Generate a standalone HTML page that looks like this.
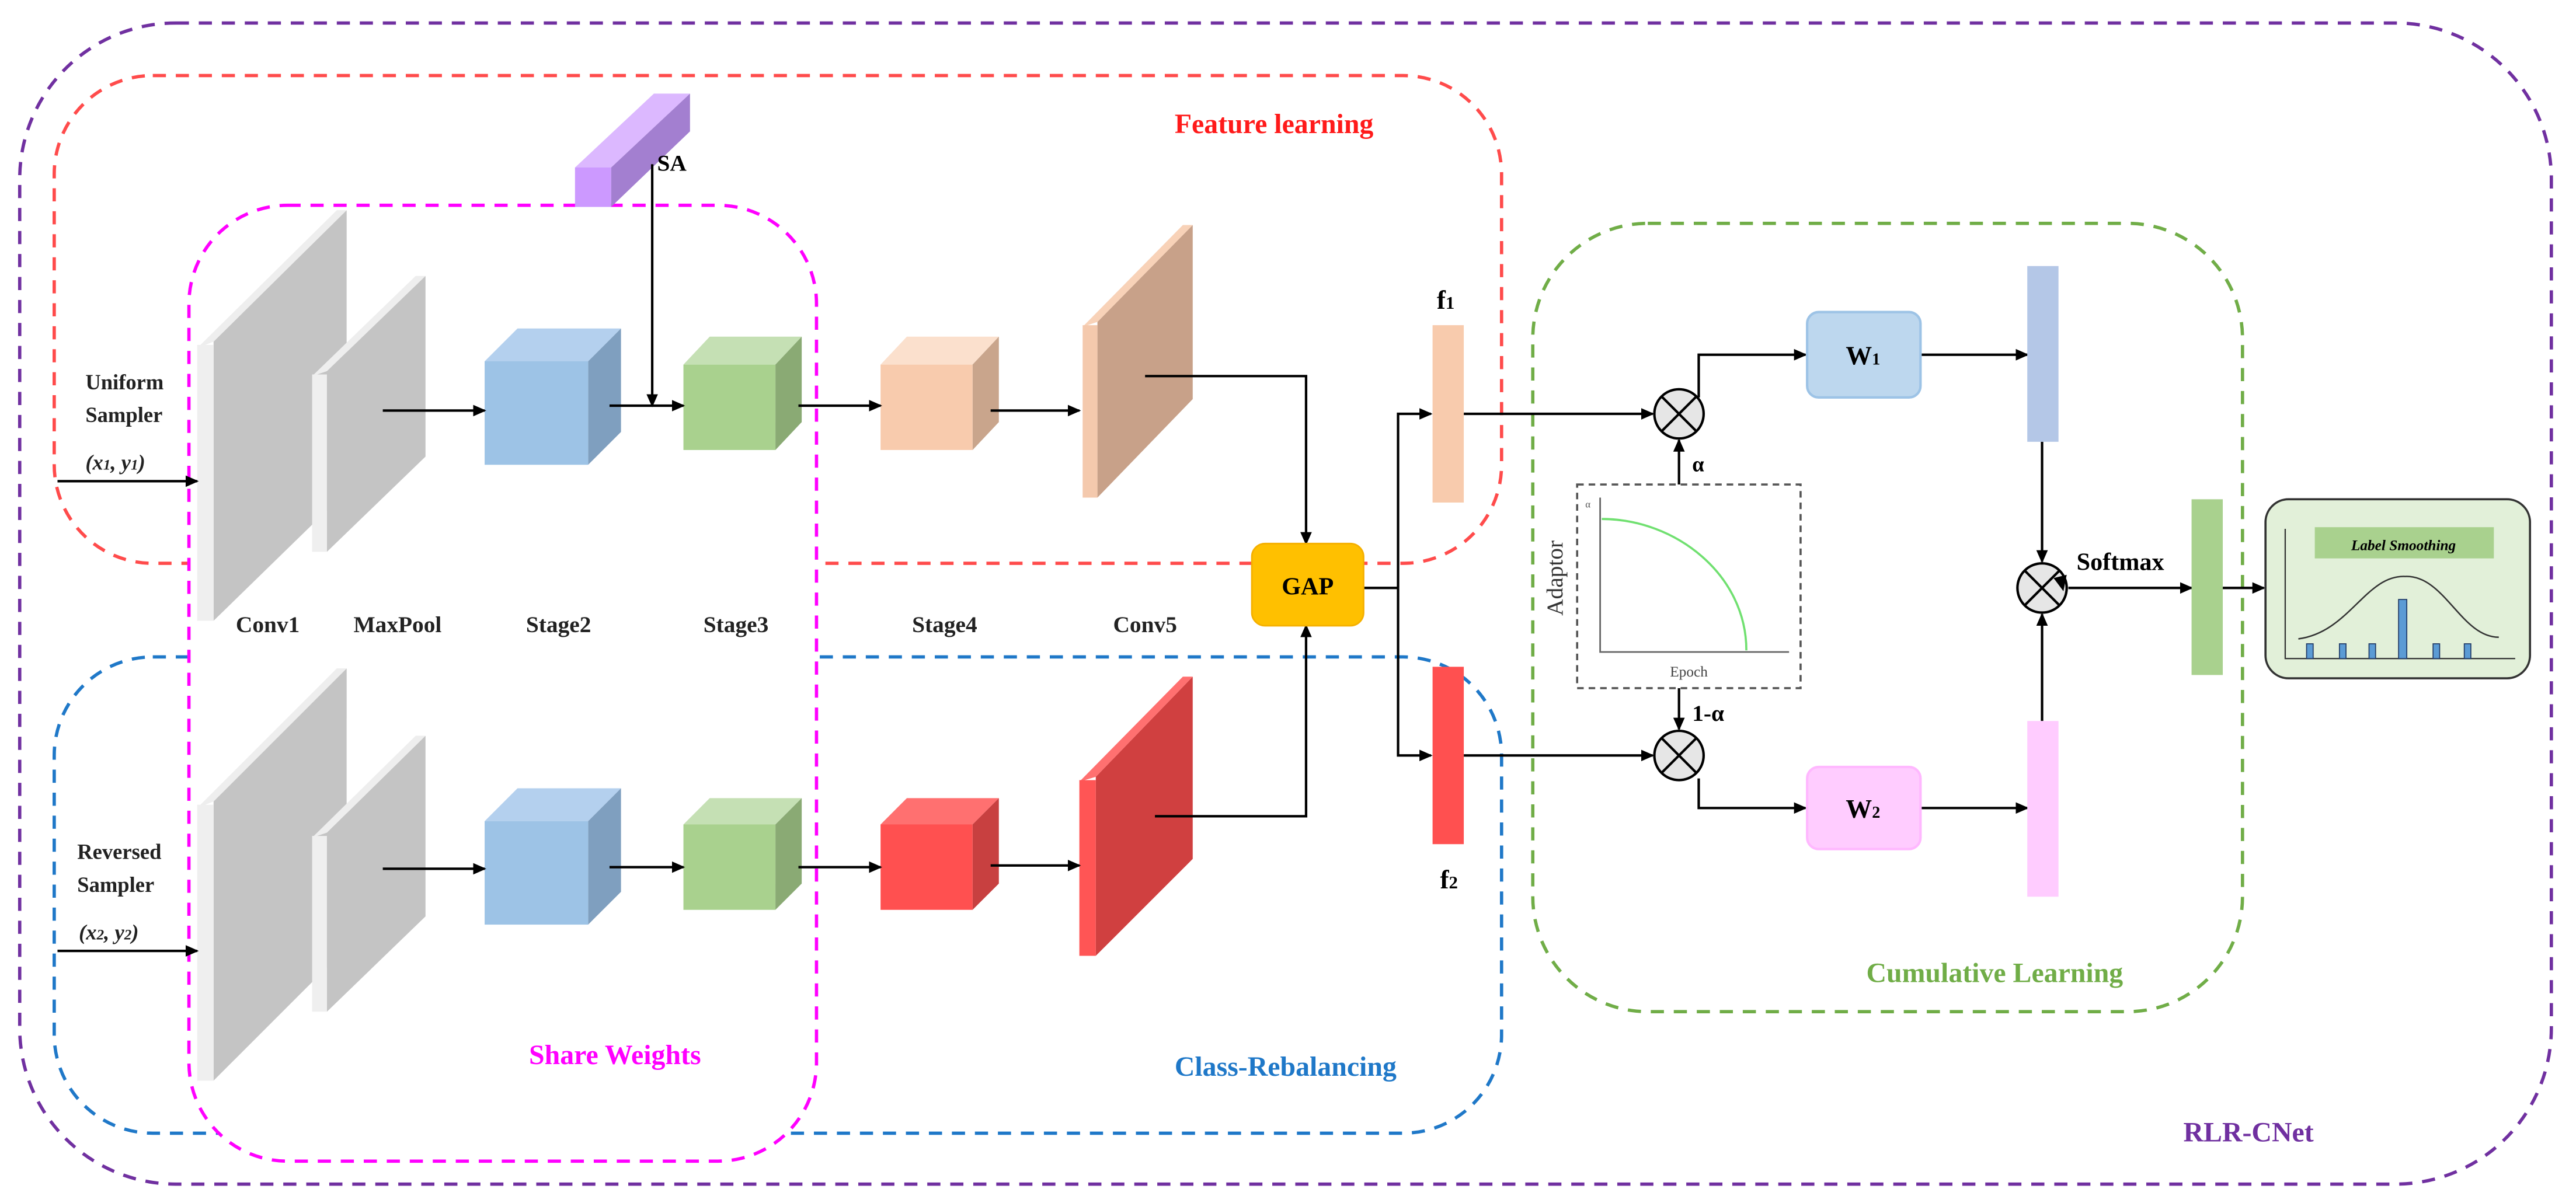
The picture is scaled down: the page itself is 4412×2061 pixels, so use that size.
<!DOCTYPE html>
<html><head><meta charset="utf-8"><style>
html,body{margin:0;padding:0;background:#fff}
svg{display:block}
text{font-family:"Liberation Serif",serif;font-weight:bold}
</style></head><body>
<svg width="4412" height="2061" viewBox="0 0 1568 732.5" preserveAspectRatio="none" xmlns="http://www.w3.org/2000/svg">
<defs>
<marker id="a" markerWidth="8" markerHeight="8" refX="7" refY="4" orient="auto" markerUnits="userSpaceOnUse"><path d="M0,0.5 L8,4 L0,7.5 z" fill="#000"/></marker>
</defs>
<g fill="none" stroke-width="2" stroke-dasharray="8,6">
<rect x="12" y="14" width="1541" height="707" rx="95" stroke="#7030a0"/>
<rect x="33" y="46" width="881" height="297" rx="60" stroke="#ff4b4b"/>
<rect x="33" y="400" width="881" height="290" rx="60" stroke="#1f78c8"/>
<rect x="115" y="125" width="382" height="582" rx="60" stroke="#ff00ff" fill="#fff"/>
<rect x="933" y="136" width="432" height="480" rx="70" stroke="#70ad47"/>
</g>
<!-- SA bar -->
<polygon points="350,102 372,102 420,57 398,57" fill="#dcb8ff"/>
<polygon points="372,102 420,57 420,80 372,126" fill="#a37fd0"/>
<rect x="350" y="102" width="22" height="24" fill="#cc99ff"/>
<text x="400" y="104" font-size="14">SA</text>
<!-- slabs -->
<g>
<polygon points="130,208 211,128 211,299 130,378" fill="#c4c4c4"/><polygon points="120,212 130,208 211,128 205,128" fill="#eeeeee"/><rect x="120" y="210" width="10" height="168" fill="#efefef"/>
<polygon points="199,226 259,168 259,278 199,336" fill="#c4c4c4"/><polygon points="190,229 199,226 259,168 253,168" fill="#eeeeee"/><rect x="190" y="228" width="9" height="108" fill="#efefef"/>
<polygon points="130,488 211,407 211,577 130,658" fill="#c4c4c4"/><polygon points="120,492 130,488 211,407 205,407" fill="#eeeeee"/><rect x="120" y="490" width="10" height="168" fill="#efefef"/>
<polygon points="199,507 259,448 259,558 199,616" fill="#c4c4c4"/><polygon points="190,510 199,507 259,448 253,448" fill="#eeeeee"/><rect x="190" y="509" width="9" height="107" fill="#efefef"/>
<polygon points="668,196 726,137 726,243 668,303" fill="#c8a189"/><polygon points="659,199 668,196 726,137 720,137" fill="#f8d2b8"/><rect x="659" y="198" width="9" height="105" fill="#f4c9ad"/>
<polygon points="667,473 726,412 726,523 667,582" fill="#d04040"/><polygon points="657,476 667,473 726,412 720,412" fill="#ff7070"/><rect x="657" y="475" width="10" height="107" fill="#ff5555"/>
</g>
<!-- cubes -->
<g>
<polygon points="295,220 315,200 378,200 358,220" fill="#b4d0ee"/><polygon points="358,220 378,200 378,263 358,283" fill="#7f9fbf"/><rect x="295" y="220" width="63" height="63" fill="#9dc3e6"/>
<polygon points="416,222 432,205 488,205 472,222" fill="#c5e0b4"/><polygon points="472,222 488,205 488,257 472,274" fill="#8aaa74"/><rect x="416" y="222" width="56" height="52" fill="#a9d18e"/>
<polygon points="536,222 552,205 608,205 592,222" fill="#fbe0cd"/><polygon points="592,222 608,205 608,257 592,274" fill="#c9a58c"/><rect x="536" y="222" width="56" height="52" fill="#f8cbad"/>
<polygon points="295,500 315,480 378,480 358,500" fill="#b4d0ee"/><polygon points="358,500 378,480 378,543 358,563" fill="#7f9fbf"/><rect x="295" y="500" width="63" height="63" fill="#9dc3e6"/>
<polygon points="416,502 432,486 488,486 472,502" fill="#c5e0b4"/><polygon points="472,502 488,486 488,538 472,554" fill="#8aaa74"/><rect x="416" y="502" width="56" height="52" fill="#a9d18e"/>
<polygon points="536,502 552,486 608,486 592,502" fill="#ff7070"/><polygon points="592,502 608,486 608,538 592,554" fill="#c84040"/><rect x="536" y="502" width="56" height="52" fill="#ff5050"/>
</g>
<!-- arrows -->
<g stroke="#000" stroke-width="1.5" fill="none" marker-end="url(#a)">
<line x1="35" y1="293" x2="120" y2="293"/>
<line x1="35" y1="579" x2="120" y2="579"/>
<line x1="233" y1="250" x2="295" y2="250"/>
<line x1="371" y1="247" x2="416" y2="247"/>
<line x1="397" y1="100" x2="397" y2="247"/>
<line x1="486" y1="247" x2="536" y2="247"/>
<line x1="603" y1="250" x2="657" y2="250"/>
<line x1="233" y1="529" x2="295" y2="529"/>
<line x1="371" y1="528" x2="416" y2="528"/>
<line x1="486" y1="528" x2="536" y2="528"/>
<line x1="603" y1="527" x2="657" y2="527"/>
<polyline points="697,229 795,229 795,331"/>
<polyline points="703,497 795,497 795,381"/>
<polyline points="851,358 851,252 871,252"/>
<polyline points="851,358 851,460 871,460"/>
<line x1="891" y1="252" x2="1006" y2="252"/>
<line x1="891" y1="460" x2="1006" y2="460"/>
<polyline points="1034,242 1034,216 1099,216"/>
<polyline points="1034,474 1034,492 1099,492"/>
<line x1="1169" y1="216" x2="1234" y2="216"/>
<line x1="1169" y1="492" x2="1234" y2="492"/>
<line x1="1243" y1="269" x2="1243" y2="342"/>
<line x1="1243" y1="439" x2="1243" y2="374"/>
<line x1="1259" y1="358" x2="1334" y2="358"/>
<line x1="1353" y1="358" x2="1378" y2="358"/>
<line x1="1022" y1="295" x2="1022" y2="268"/>
<line x1="1022" y1="419" x2="1022" y2="444"/>
</g>
<line x1="830" y1="358" x2="851" y2="358" stroke="#000" stroke-width="1.5"/>
<!-- GAP -->
<rect x="762" y="331" width="68" height="50" rx="8" fill="#ffc000" stroke="#f5b000"/>
<text x="796" y="362" font-size="15" text-anchor="middle">GAP</text>
<!-- f bars -->
<rect x="872" y="198" width="19" height="108" fill="#f8cbad"/>
<rect x="872" y="406" width="19" height="108" fill="#ff5050"/>
<text x="880" y="188" font-size="16" text-anchor="middle">f<tspan font-size="11">1</tspan></text>
<text x="882" y="541" font-size="16" text-anchor="middle">f<tspan font-size="11">2</tspan></text>
<!-- multipliers -->
<g fill="#e6e6e6" stroke="#000" stroke-width="1.5">
<circle cx="1022" cy="252" r="15"/><circle cx="1022" cy="460" r="15"/><circle cx="1243" cy="358" r="15"/>
</g>
<g stroke="#000" stroke-width="1.5">
<path d="M1011.4,241.4 L1032.6,262.6 M1032.6,241.4 L1011.4,262.6"/>
<path d="M1011.4,449.4 L1032.6,470.6 M1032.6,449.4 L1011.4,470.6"/>
<path d="M1232.4,347.4 L1253.6,368.6 M1253.6,347.4 L1232.4,368.6"/>
</g>
<polygon points="1250,352 1258,350 1256,360" fill="#000"/>
<!-- W boxes -->
<rect x="1100" y="190" width="69" height="52" rx="7" fill="#bdd7ee" stroke="#9dc3e6" stroke-width="1.5"/>
<text x="1134" y="222" font-size="16" text-anchor="middle">W<tspan font-size="10">1</tspan></text>
<rect x="1100" y="467" width="69" height="50" rx="7" fill="#ffccff" stroke="#ffb8ff" stroke-width="1.5"/>
<text x="1134" y="498" font-size="16" text-anchor="middle">W<tspan font-size="10">2</tspan></text>
<rect x="1234" y="162" width="19" height="107" fill="#b4c7e7"/>
<rect x="1234" y="439" width="19" height="107" fill="#ffccff"/>
<rect x="1334" y="304" width="19" height="107" fill="#a9d18e"/>
<text x="1264" y="347" font-size="15">Softmax</text>
<text x="1030" y="287" font-size="13">α</text>
<text x="1030" y="439" font-size="14">1-α</text>
<!-- adaptor -->
<rect x="960" y="295" width="136" height="124" fill="#fff" stroke="#555" stroke-width="1.3" stroke-dasharray="4,3"/>
<text transform="translate(951,352) rotate(-90)" font-size="14" text-anchor="middle" style="font-weight:normal" fill="#333">Adaptor</text>
<g stroke="#666" stroke-width="1" fill="none"><polyline points="974,303 974,397 1089,397"/></g>
<text x="965" y="309" font-size="6" style="font-weight:normal" fill="#555">α</text>
<path d="M975,316 C1020,316 1063,350 1063,396" stroke="#70e070" stroke-width="1.3" fill="none"/>
<text x="1028" y="412" font-size="9" text-anchor="middle" style="font-weight:normal" fill="#444">Epoch</text>
<!-- label smoothing -->
<rect x="1379" y="304" width="161" height="109" rx="14" fill="#e2f0d9" stroke="#333" stroke-width="1.3"/>
<g stroke="#333" stroke-width="0.8" fill="none"><polyline points="1391,322 1391,401 1531,401"/></g>
<rect x="1409" y="321" width="109" height="19" fill="#a9d18e"/>
<text x="1463" y="335" font-size="9" font-style="italic" text-anchor="middle">Label Smoothing</text>
<path d="M1399,389 C1430,385 1440,350 1464,351 C1488,350 1498,388 1521,388" stroke="#333" stroke-width="0.9" fill="none"/>
<g fill="#5b9bd5" stroke="#1f3864" stroke-width="0.6">
<rect x="1404" y="392" width="4" height="9"/><rect x="1424" y="392" width="4" height="9"/><rect x="1442" y="392" width="4" height="9"/>
<rect x="1460" y="365" width="5" height="36"/><rect x="1481" y="392" width="4" height="9"/><rect x="1500" y="392" width="4" height="9"/>
</g>
<!-- labels -->
<g font-size="14" fill="#222">
<text x="163" y="385" text-anchor="middle">Conv1</text>
<text x="242" y="385" text-anchor="middle">MaxPool</text>
<text x="340" y="385" text-anchor="middle">Stage2</text>
<text x="448" y="385" text-anchor="middle">Stage3</text>
<text x="575" y="385" text-anchor="middle">Stage4</text>
<text x="697" y="385" text-anchor="middle">Conv5</text>
</g>
<g font-size="13" fill="#222">
<text x="52" y="237">Uniform</text><text x="52" y="257">Sampler</text>
<text x="52" y="286" font-style="italic">(x<tspan font-size="9">1</tspan>, y<tspan font-size="9">1</tspan>)</text>
<text x="47" y="523">Reversed</text><text x="47" y="543">Sampler</text>
<text x="48" y="572" font-style="italic">(x<tspan font-size="9">2</tspan>, y<tspan font-size="9">2</tspan>)</text>
</g>
<text x="715" y="81" font-size="17" fill="#ff1a1a">Feature learning</text>
<text x="322" y="648" font-size="17" fill="#ff00ff">Share Weights</text>
<text x="715" y="655" font-size="17" fill="#1f78c8">Class-Rebalancing</text>
<text x="1136" y="598" font-size="17" fill="#70ad47">Cumulative Learning</text>
<text x="1329" y="695" font-size="17" fill="#7030a0">RLR-CNet</text>
</svg>
</body></html>
